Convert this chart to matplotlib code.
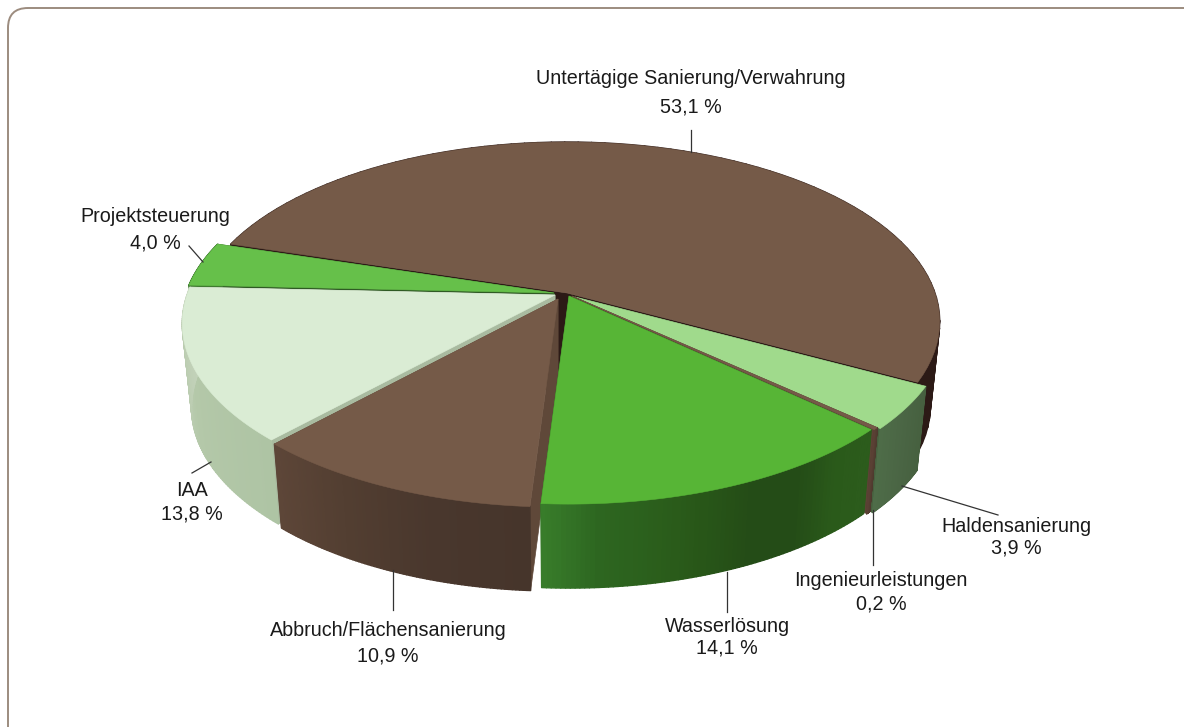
import numpy as np
import matplotlib
matplotlib.use("Agg")
import matplotlib.pyplot as plt
from matplotlib.collections import PolyCollection
from matplotlib.colors import LinearSegmentedColormap
from matplotlib.patches import FancyBboxPatch, Polygon

plt.rcParams['font.family'] = ['Liberation Sans', 'DejaVu Sans']

# data, clockwise from the start angle
categories = ["Untertägige Sanierung/Verwahrung", "Haldensanierung", "Ingenieurleistungen",
              "Wasserlösung", "Abbruch/Flächensanierung", "IAA", "Projektsteuerung"]
values = [53.1, 3.9, 0.2, 14.1, 10.9, 13.8, 4.0]

# styles, side colours run from left to right on screen
top_colors = ["#755a48", "#a0da8c", "#755a48", "#57b536", "#755a48", "#daecd4", "#66c04a"]
cut_colors = ["#2c1a16", "#47603f", "#5c4335", "#2b5a1c", "#5f4839", "#a9bba0", "#2f5a24"]
side_colors = [["#2c1a16", "#2c1a16"],
               ["#4e6c48", "#4a6544", "#46603f"],
               ["#5a4034", "#4e3a2e"],
               ["#387c2a", "#2d6620", "#2b5f1c", "#285618", "#244c17", "#244c17", "#2a5a1a", "#2c5c1c"],
               ["#5d4638", "#523e31", "#49372d", "#46352b"],
               ["#c3d2ba", "#b4c8a9", "#aec4a4"],
               ["#3f7a30", "#3f7a30"]]
draw_order = [0, 6, 5, 1, 2, 4, 3]

# where each slice's tip sits, in pixels (slices are pulled apart)
tips = [(567, 293), (575, 297), (572, 296), (569, 296), (558, 299), (555, 295), (554, 293)]

# text and leader positions, one per category, in pixels
label_pos = [(691, 79, 107), (1016, 526, 548), (881, 581, 604), (727, 626, 648),
             (388, 631, 656), (192, 491, 514), (155, 217, 243)]
leaders = [((691, 130), (691, 152)), ((998, 515), (902, 486)), ((873, 565), (873, 510)),
           ((727, 612), (727, 572)), ((393, 610), (393, 570)), ((192, 473), (211, 462)),
           ((189, 246), (203, 262))]

# pie geometry
a, b, k = 368, 175, 0.159
depth = 84
shrink = 0.025
start_angle = 163


def project(cx, cy, x, y, z=0.0):
    s = 1 / (1 + k * y)
    sx = cx + a * x * s
    sy = cy - b * y * s
    return cx + (sx - cx) * (1 - shrink * z), sy + depth * z


fig = plt.figure(figsize=(11.84, 7.27), dpi=100)
ax = fig.add_axes([0, 0, 1, 1])
ax.set_xlim(0, 1184)
ax.set_ylim(727, 0)
ax.axis('off')

frame = FancyBboxPatch((28, 28), 1164, 714, boxstyle="round,pad=20,rounding_size=20",
                       fc='white', ec='#9c8c7f', lw=1.4)
ax.add_patch(frame)

ends = start_angle - np.cumsum(values) * 3.6
starts = np.r_[start_angle, ends[:-1]]

for i in draw_order:
    cx, cy = tips[i]
    th = np.radians(np.linspace(starts[i], ends[i], 80))
    x, y = np.cos(th), np.sin(th)
    tx, ty = project(cx, cy, x, y, 0)
    bx, by = project(cx, cy, x, y, 1)
    bot_x, bot_y = project(cx, cy, 0, 0, 1)

    # cut walls first, the outer wall goes over them
    for j in (0, -1):
        ax.add_patch(Polygon([(cx, cy), (tx[j], ty[j]), (bx[j], by[j]), (bot_x, bot_y)],
                             closed=True, fc=cut_colors[i], ec=cut_colors[i], lw=0.5))

    # outer wall, split in small pieces for the shading
    # (angles run clockwise, so the front slices go right to left)
    cmap = LinearSegmentedColormap.from_list("side", side_colors[i])
    quads = [[(tx[j], ty[j]), (tx[j + 1], ty[j + 1]), (bx[j + 1], by[j + 1]), (bx[j], by[j])]
             for j in range(len(th) - 1)]
    cols = cmap(np.linspace(1, 0, len(quads)))
    ax.add_collection(PolyCollection(quads, facecolors=cols, edgecolors=cols, linewidths=1.0))

    # top face
    ax.add_patch(Polygon(np.c_[np.r_[cx, tx], np.r_[cy, ty]], closed=True,
                         fc=top_colors[i], ec=top_colors[i], lw=0.4))

for i, cat in enumerate(categories):
    px, y1, y2 = label_pos[i]
    ax.text(px, y1, cat, ha='center', va='center', fontsize=14.2, color='#1a1a1a')
    ax.text(px, y2, f"{values[i]:.1f} %".replace('.', ','), ha='center', va='center',
            fontsize=14.2, color='#1a1a1a')
    (x0, y0), (x1, y1) = leaders[i]
    ax.plot([x0, x1], [y0, y1], color='#333333', lw=0.9)

fig.savefig("out.png", dpi=100)
